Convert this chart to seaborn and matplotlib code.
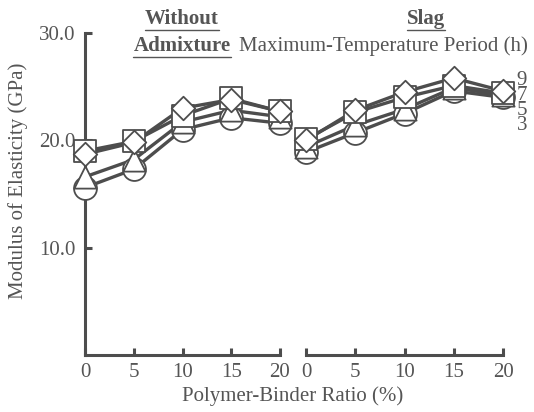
import matplotlib
matplotlib.use("Agg")
import matplotlib.pyplot as plt
import seaborn as sns
import pandas as pd
from matplotlib.lines import Line2D

# ---- data ----
ratio = [0, 5, 10, 15, 20]
periods = ["3", "5", "7", "9"]
without_3h = [15.6, 17.3, 21.0, 22.1, 21.6]
without_5h = [16.6, 18.2, 21.7, 22.8, 22.2]
without_7h = [19.0, 19.9, 22.3, 23.9, 22.7]
without_9h = [18.7, 19.8, 23.0, 23.8, 22.7]
slag_3h = [18.9, 20.7, 22.5, 24.6, 24.0]
slag_5h = [19.4, 21.4, 22.9, 24.9, 24.2]
slag_7h = [20.1, 22.6, 24.0, 25.1, 24.4]
slag_9h = [20.0, 22.8, 24.5, 25.8, 24.6]
period_label_text = "9\n7\n5\n3"
period_label_center = 23.5
yticks = [10, 20, 30]
ytick_labels = ["10.0", "20.0", "30.0"]

rows = []
for p, w, s in zip(periods, [without_3h, without_5h, without_7h, without_9h],
                   [slag_3h, slag_5h, slag_7h, slag_9h]):
    for x, a, b in zip(ratio, w, s):
        rows.append(dict(period=p, ratio=x, group="Without", E=a))
        rows.append(dict(period=p, ratio=x, group="Slag", E=b))
df = pd.DataFrame(rows)

sns.set_theme(style="white")
plt.rcParams["font.family"] = ["Liberation Serif", "DejaVu Serif"]
INK = "#4d4d4d"
TXT = "#555555"
FS = 15

W, H = 534, 412
fig = plt.figure(figsize=(W / 100, H / 100), dpi=100)
fig.patch.set_facecolor("white")
bottom_px, top_px = 355, 33
axL = fig.add_axes([85 / W, 1 - bottom_px / H, 195 / W, (bottom_px - top_px) / H])
axR = fig.add_axes([306 / W, 1 - bottom_px / H, 197 / W, (bottom_px - top_px) / H])

markers = {"3": ("o", 16.5), "5": ("^", 16.0), "7": ("s", 15.5), "9": ("D", 12.0)}

for ax, grp in [(axL, "Without"), (axR, "Slag")]:
    sub = df[df.group == grp]
    sns.lineplot(data=sub, x="ratio", y="E", units="period", estimator=None,
                 color=INK, lw=2.4, ax=ax, legend=False, zorder=2, clip_on=False)
    for i, p in enumerate(periods):
        d = sub[sub.period == p]
        m, ms = markers[p]
        sns.scatterplot(data=d, x="ratio", y="E", marker=m, s=ms ** 2,
                        facecolor="white", edgecolor=INK, linewidth=1.3,
                        ax=ax, legend=False, zorder=3 + i, clip_on=False)
    ax.set_xlim(0, 20)
    ax.set_ylim(0, 30)
    ax.set_xticks(ratio)
    ax.set_xticklabels([str(r) for r in ratio])
    ax.set_xlabel("")
    ax.set_ylabel("")
    ax.patch.set_alpha(0)
    for sp in ["top", "right"]:
        ax.spines[sp].set_visible(False)
    ax.spines["bottom"].set_color(INK)
    ax.spines["bottom"].set_linewidth(2.2)
    ax.tick_params(axis="both", direction="in", length=5, width=2.2, color=INK,
                   labelsize=FS, labelcolor=TXT, pad=7)
    ax.tick_params(axis="x", bottom=True, pad=6)

axL.spines["left"].set_color(INK)
axL.spines["left"].set_linewidth(2.2)
axL.set_yticks(yticks)
axL.set_yticklabels(ytick_labels)
axL.tick_params(axis="y", left=True)
axR.spines["left"].set_visible(False)
axR.set_yticks([])

axR.text(21.4, period_label_center, period_label_text, fontsize=FS, color=TXT,
         va="center", ha="left", linespacing=0.72)

fig.text(18 / W, 1 - 181 / H, "Modulus of Elasticity (GPa)", rotation=90,
         fontsize=FS, color=TXT, ha="center", va="center")
fig.text(293 / W, 1 - 396 / H, "Polymer-Binder Ratio (%)", fontsize=FS,
         color=TXT, ha="center", va="center")

under = []
under.append(fig.text(182 / W, 1 - 19 / H, "Without", fontsize=FS, fontweight="bold",
                      color=TXT, ha="center", va="center"))
under.append(fig.text(182 / W, 1 - 46 / H, "Admixture", fontsize=FS, fontweight="bold",
                      color=TXT, ha="center", va="center"))
under.append(fig.text(426 / W, 1 - 19 / H, "Slag", fontsize=FS, fontweight="bold",
                      color=TXT, ha="center", va="center"))
fig.text(383 / W, 1 - 46 / H, "Maximum-Temperature Period (h)", fontsize=FS,
         color=TXT, ha="center", va="center")

fig.canvas.draw()
r = fig.canvas.get_renderer()
for t in under:
    bb = t.get_window_extent(r)
    yl = (bb.y0 - 1) / H
    fig.add_artist(Line2D([bb.x0 / W, bb.x1 / W], [yl, yl], color=TXT, lw=1.0,
                          transform=fig.transFigure))

fig.savefig("out.png", dpi=100)
